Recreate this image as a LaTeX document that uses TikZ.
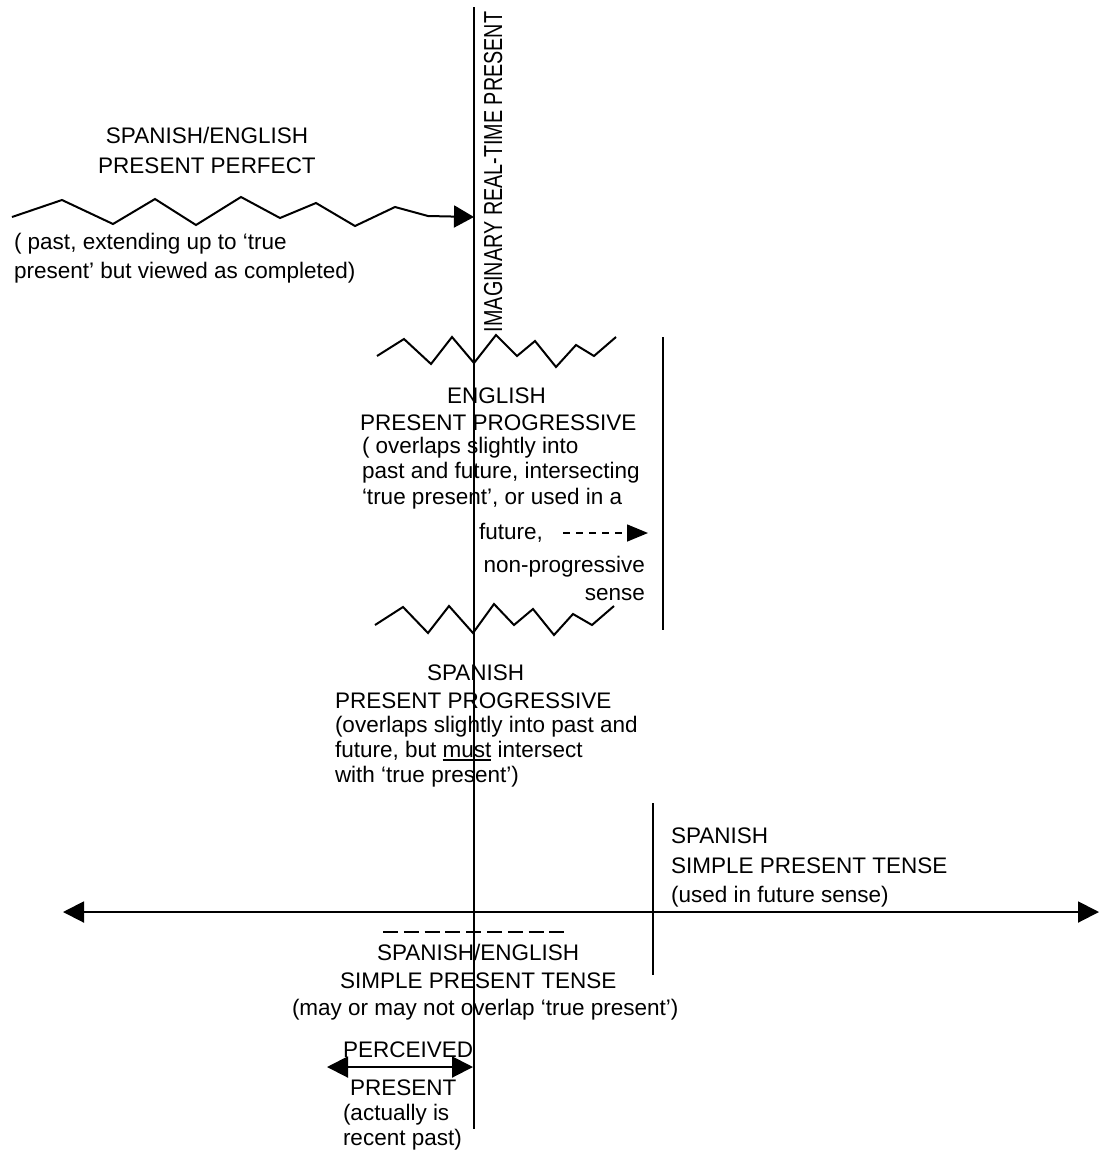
\documentclass[tikz,border=0pt]{standalone}
\usepackage{fontspec}
\setmainfont{Liberation Sans}
\usetikzlibrary{arrows.meta}
% underlined word with a rule of chosen weight
\newcommand\ulword[1]{\setbox0\hbox{#1}\rlap{\rule[-3.5pt]{\wd0}{1.8pt}}\box0\relax}
\begin{document}
\begin{tikzpicture}[x=1pt,y=-1pt,
  line width=2pt,
  txt/.style={inner sep=0pt, anchor=base west, font=\fontsize{22.5}{26}\selectfont},
  txtr/.style={txt, anchor=base east},
  txtc/.style={txt, anchor=base},
  endarrow/.style={-{Triangle[length=20pt,width=22pt]}},
  botharrow/.style={{Triangle[length=21pt,width=21pt]}-{Triangle[length=21pt,width=21pt]}},
  dasharrow/.style={line width=1.5pt, dash pattern=on 7pt off 6pt, -{Triangle[length=21pt,width=17pt]}},
  zig/.style={line width=2pt, miter limit=10},
]
\useasboundingbox (0,0) rectangle (1100,1154);

% ---- the real-time present axis ----
\coordinate (nowtop) at (474,7);
\coordinate (nowbot) at (474,1129);
\draw (nowtop) -- (nowbot);
\node[inner sep=0pt, anchor=base west, rotate=90, font=\fontsize{26}{30}\selectfont]
  (nowlabel) at (502,333) {\scalebox{0.76}[1]{IMAGINARY REAL-TIME PRESENT}};

% ---- present perfect ----
\coordinate (pp0) at (12,217);
\coordinate (pp1) at (428,216);
\coordinate (ppend) at (474,217);
\draw[zig] (pp0) -- (62,200) -- (113,224) -- (155,199) -- (196,225) -- (241,197)
  -- (280,218) -- (316,203) -- (355,226) -- (395,207) -- (pp1);
\draw[endarrow] (pp1) -- (ppend);
\node[txtc] (ppa) at (207,143) {SPANISH/ENGLISH};
\node[txtc] (ppb) at (207,173) {PRESENT PERFECT};
\node[txt] (ppc) at (13,249) {( past, extending up to ‘true};
\node[txt] (ppd) at (13,278) {present’ but viewed as completed)};

% ---- English present progressive ----
\draw[zig] (377,356) -- (404,339) -- (431,364) -- (452,337) -- (474,363) -- (496,335)
  -- (517,356) -- (535,341) -- (556,367) -- (576,345) -- (594,356) -- (616,337);
\coordinate (eptop) at (663,337);
\coordinate (epbot) at (663,630);
\draw (eptop) -- (epbot);
\node[txt] (epa) at (446,403) {ENGLISH};
\node[txt] (epb) at (359,430) {PRESENT PROGRESSIVE};
\node[txt] (epc) at (361,453) {( overlaps slightly into};
\node[txt] (epd) at (361,478) {past and future, intersecting};
\node[txt] (epe) at (361,504) {‘true present’, or used in a};
\node[txt] (epf) at (478,539) {future,};
\node[txtr] (epg) at (646,572) {non-progressive};
\node[txtr] (eph) at (646,600) {sense};
\coordinate (fa0) at (563,533);
\coordinate (fa1) at (648,533);
\draw[dasharrow] (fa0) -- (fa1);

% ---- Spanish present progressive ----
\draw[zig] (375,625) -- (403,607) -- (428,633) -- (449,606) -- (473,633) -- (494,604)
  -- (514,625) -- (533,609) -- (554,635) -- (573,614) -- (592,625) -- (614,606);
\node[txt] (spa) at (426,680) {SPANISH};
\node[txt] (spb) at (334,708) {PRESENT PROGRESSIVE};
\node[txt] (spc) at (334,732) {(overlaps slightly into past and};
\node[txt] (spd) at (334,757) {future, but \ulword{must} intersect};
\node[txt] (spe) at (334,782) {with ‘true present’)};

% ---- time line ----
\coordinate (tl0) at (63,912);
\coordinate (tl1) at (1099,912);
\draw[botharrow] (tl0) -- (tl1);

% ---- Spanish simple present, future sense ----
\coordinate (sftop) at (653,803);
\coordinate (sfbot) at (653,975);
\draw (sftop) -- (sfbot);
\node[txt] (sfa) at (670,843) {SPANISH};
\node[txt] (sfb) at (670,873) {SIMPLE PRESENT TENSE};
\node[txt] (sfc) at (670,902) {(used in future sense)};

% ---- Spanish/English simple present ----
\coordinate (ss0) at (383,932);
\coordinate (ss1) at (565,932);
\draw[dash pattern=on 15pt off 5.8pt] (ss0) -- (ss1);
\node[txt] (ssa) at (376,960) {SPANISH/ENGLISH};
\node[txt] (ssb) at (339,988) {SIMPLE PRESENT TENSE};
\node[txt] (ssc) at (291,1015) {(may or may not overlap ‘true present’)};

% ---- perceived present ----
\coordinate (pc0) at (327,1067);
\coordinate (pc1) at (473,1067);
\draw[botharrow] (pc0) -- (pc1);
\node[txt] (pca) at (342,1057) {PERCEIVED};
\node[txt] (pcb) at (349,1095) {PRESENT};
\node[txt] (pcc) at (342,1120) {(actually is};
\node[txt] (pcd) at (342,1145) {recent past)};
\end{tikzpicture}
\end{document}
